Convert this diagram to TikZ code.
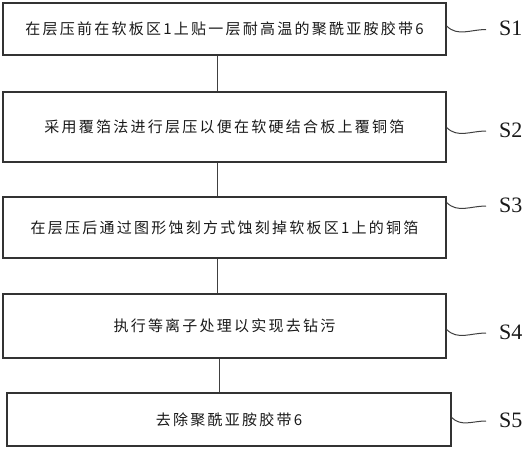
\documentclass[tikz,border=0pt]{standalone}
\usepackage{fontspec}
\setmainfont{Liberation Serif}
\newfontfamily\cjk[LetterSpace=15]{Noto Sans CJK SC}
\begin{document}
\begin{tikzpicture}[x=1pt,y=-1pt,
  stepbox/.style={draw=black!80,line width=1.3pt,minimum width=443pt,inner sep=0pt,font=\cjk\fontsize{15}{18}\selectfont,text=black!90},
  lab/.style={font=\fontsize{22}{26}\selectfont,text=black!90,anchor=west,inner sep=0pt},
  conn/.style={draw=black!75,line width=1pt},
  lead/.style={draw=black!75,line width=1pt}]
\useasboundingbox (0,0) rectangle (523,450);
\node[stepbox,minimum height=52pt] (b1) at (224.5,29) {在层压前在软板区1上贴一层耐高温的聚酰亚胺胶带6};
\node[stepbox,minimum height=70pt] (b2) at (224.5,127) {采用覆箔法进行层压以便在软硬结合板上覆铜箔};
\node[stepbox,minimum height=61pt] (b3) at (224.5,227.5) {在层压后通过图形蚀刻方式蚀刻掉软板区1上的铜箔};
\node[stepbox,minimum height=64pt] (b4) at (224.5,326) {执行等离子处理以实现去钻污};
\node[stepbox,minimum height=53pt,minimum width=444pt] (b5) at (229,419.5) {去除聚酰亚胺胶带6};
\node[lab] (s1) at (499,28.5) {S1};
\node[lab] (s2) at (499,130) {S2};
\node[lab] (s3) at (499,205) {S3};
\node[lab] (s4) at (499,332) {S4};
\node[lab] (s5) at (499,420) {S5};
\draw[conn] ([xshift=-7.5pt]b1.south) -- ([xshift=-7.5pt]b1.south |- b2.north);
\draw[conn] ([xshift=-7.5pt]b2.south) -- ([xshift=-7.5pt]b2.south |- b3.north);
\draw[conn] ([xshift=-7.5pt]b3.south) -- ([xshift=-7.5pt]b3.south |- b4.north);
\draw[conn] ([xshift=-5.5pt]b4.south) -- ([xshift=-5.5pt]b4.south |- b5.north);
\foreach \b/\s in {b1/s1,b2/s2,b3/s3,b4/s4,b5/s5}
  \draw[lead] ([yshift=2.5pt]\b.east |- \s.west) to[out=-45,in=180] ([xshift=-13pt,yshift=-1pt]\s.west);
\end{tikzpicture}
\end{document}
